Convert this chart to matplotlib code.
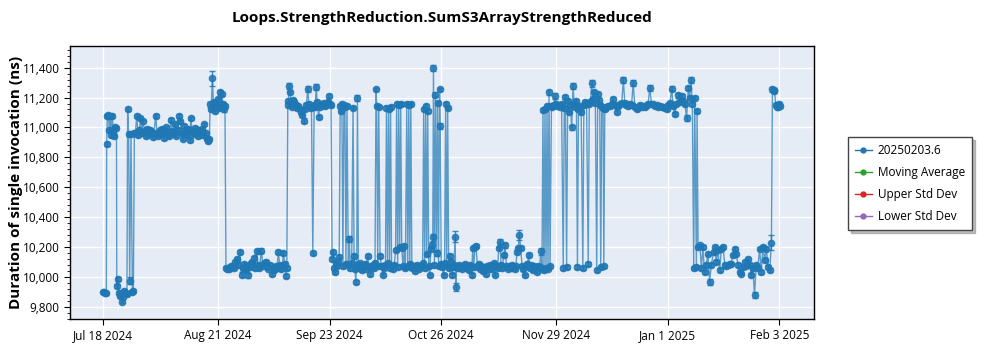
import matplotlib
matplotlib.use("Agg")
import matplotlib.pyplot as plt
from matplotlib.lines import Line2D
from matplotlib.ticker import MultipleLocator, AutoMinorLocator, StrMethodFormatter
import pandas as pd

# --- data (days since 2024-07-18, ns) ---
days = [
    0.0, 0.3, 0.6, 0.9, 1.0, 1.2, 1.5, 1.8, 2.1, 2.4,
    2.7, 3.0, 3.3, 3.6, 3.9, 4.0, 4.3, 4.6, 5.0, 5.4,
    5.8, 6.2, 6.6, 7.0, 7.2, 7.5, 7.8, 8.2, 8.6, 8.9,
    9.2, 9.5, 9.9, 10.3, 10.7, 11.0, 11.4, 11.8, 12.2, 12.6,
    13.0, 13.4, 13.8, 14.2, 14.6, 15.0, 15.5, 15.9, 16.3, 16.7,
    17.1, 17.5, 17.9, 18.3, 18.7, 19.1, 19.5, 20.0, 20.4, 20.8,
    21.2, 21.6, 22.0, 22.4, 22.8, 23.2, 23.6, 24.0, 24.4, 24.8,
    25.2, 25.6, 25.9, 26.3, 26.7, 27.1, 27.5, 27.9, 28.3, 28.7,
    29.1, 29.5, 29.9, 30.3, 30.7, 31.1, 31.4, 31.6, 31.9, 32.3,
    32.6, 32.9, 33.2, 33.5, 33.8, 34.1, 34.5, 34.8, 35.1, 35.4,
    35.7, 36.0, 36.3, 36.7, 37.1, 37.5, 37.9, 38.3, 38.7, 39.1,
    39.5, 39.9, 40.4, 40.9, 41.3, 41.7, 42.1, 42.5, 42.9, 43.3,
    43.7, 44.1, 44.5, 44.9, 45.4, 45.8, 46.2, 46.8, 47.2, 47.6,
    48.0, 48.4, 48.8, 49.2, 49.8, 50.2, 50.6, 51.0, 51.4, 51.8,
    52.2, 52.6, 53.0, 53.3, 53.7, 54.0, 54.3, 54.6, 54.8, 55.0,
    55.3, 55.6, 55.9, 56.2, 56.5, 56.9, 57.3, 57.7, 58.1, 58.5,
    58.9, 59.3, 59.7, 60.1, 60.5, 60.8, 61.2, 61.6, 62.0, 62.4,
    62.7, 63.0, 63.3, 63.7, 64.0, 64.4, 64.8, 65.2, 65.6, 66.0,
    66.4, 66.8, 67.1, 67.4, 67.7, 68.0, 68.3, 68.6, 68.9, 69.2,
    69.5, 69.8, 70.1, 70.3, 70.6, 70.9, 71.2, 71.5, 71.8, 72.1,
    72.5, 72.8, 73.1, 73.5, 73.9, 74.2, 74.5, 74.7, 75.0, 75.2,
    75.5, 75.8, 76.1, 76.5, 76.9, 77.3, 77.7, 78.2, 78.5, 78.9,
    79.3, 79.7, 80.1, 80.4, 80.7, 80.9, 81.2, 81.5, 81.9, 82.3,
    82.7, 83.1, 83.5, 83.8, 84.1, 84.4, 84.7, 85.0, 85.3, 85.7,
    86.1, 86.5, 86.8, 87.1, 87.4, 87.7, 88.0, 88.3, 88.7, 89.1,
    89.4, 89.8, 90.1, 90.4, 90.7, 91.0, 91.3, 91.7, 92.1, 92.5,
    92.9, 93.3, 93.7, 94.1, 94.5, 94.8, 95.1, 95.4, 95.7, 96.0,
    96.3, 96.6, 96.9, 97.2, 97.5, 97.7, 98.0, 98.3, 98.6, 98.9,
    99.2, 99.5, 99.7, 100.0, 100.3, 100.7, 101.0, 101.3, 101.6, 101.9,
    102.2, 102.6, 102.9, 103.2, 103.5, 103.8, 104.1, 104.3, 104.6, 105.0,
    105.4, 105.8, 106.2, 106.6, 107.0, 107.4, 107.8, 108.2, 108.6, 109.0,
    109.3, 109.6, 110.0, 110.3, 110.7, 111.1, 111.5, 111.9, 112.3, 112.7,
    113.1, 113.5, 113.9, 114.3, 114.7, 115.1, 115.5, 115.9, 116.3, 116.7,
    117.0, 117.4, 117.7, 118.1, 118.5, 118.9, 119.3, 119.7, 120.1, 120.5,
    120.9, 121.3, 121.7, 122.1, 122.4, 122.8, 123.1, 123.5, 123.9, 124.3,
    124.7, 125.1, 125.5, 125.9, 126.3, 126.7, 127.1, 127.5, 127.9, 128.3,
    128.7, 129.1, 129.5, 129.8, 130.1, 130.4, 130.7, 131.0, 131.3, 131.6,
    131.9, 132.2, 132.6, 132.9, 133.3, 133.6, 134.0, 134.4, 134.8, 135.2,
    135.6, 136.1, 136.4, 136.7, 137.1, 137.4, 137.8, 138.2, 138.6, 139.0,
    139.3, 139.7, 140.0, 140.3, 140.6, 141.0, 141.4, 141.9, 142.2, 142.6,
    143.0, 143.5, 143.8, 144.2, 144.5, 144.9, 145.3, 145.6, 146.0, 146.3,
    146.6, 146.9, 147.2, 147.5, 147.9, 148.1, 148.4, 148.8, 149.3, 149.9,
    150.4, 150.9, 151.4, 151.9, 152.4, 152.9, 153.4, 153.9, 154.3, 154.8,
    155.3, 155.8, 156.3, 156.8, 157.3, 157.8, 158.3, 158.8, 159.3, 159.8,
    160.3, 160.8, 161.2, 161.7, 162.2, 162.7, 163.2, 163.7, 164.2, 164.7,
    165.2, 165.7, 166.2, 166.7, 167.2, 167.7, 168.2, 168.6, 169.1, 169.6,
    170.1, 170.6, 171.1, 171.6, 172.1, 172.6, 173.1, 173.5, 173.9, 174.3,
    174.7, 175.0, 175.5, 175.7, 176.0, 176.5, 177.0, 177.4, 177.9, 178.4,
    178.9, 179.4, 179.9, 180.6, 180.9, 181.4, 181.9, 182.4, 182.9, 183.4,
    183.9, 184.3, 184.8, 185.3, 185.8, 186.3, 186.8, 187.3, 187.8, 188.3,
    188.8, 189.3, 189.8, 190.3, 190.8, 191.3, 191.7, 192.2, 192.7, 193.2,
    193.7, 194.2, 194.7, 195.2, 195.7, 196.2, 196.7, 197.2, 197.7, 198.0,
    198.4, 198.6, 199.0, 199.3, 199.6, 199.9, 200.3,
]

durations = [
    9900, 9898, 9893, 9890, 10890, 11075, 11080, 10980, 11078, 10950,
    11075, 10960, 10940, 11000, 10995, 9940, 9985, 9890, 9870, 9835,
    9865, 9905, 9895, 9885, 11125, 10955, 9975, 10955, 9900, 9905,
    10960, 10965, 11075, 10950, 10980, 11065, 10960, 11040, 10975, 10940,
    10990, 10955, 10985, 10970, 10935, 10960, 11078, 10965, 10945, 10980,
    10960, 10990, 10930, 10975, 11000, 10955, 10940, 11050, 10975, 10960,
    11020, 10945, 10985, 11078, 11040, 10960, 10925, 11010, 10970, 10950,
    10990, 10915, 11060, 10975, 10955, 10995, 10960, 10940, 10985, 10965,
    10990, 10950, 11020, 10960, 10925, 10910, 10920, 11155, 11120, 11330,
    11145, 11170, 11110, 11150, 11190, 11130, 11235, 11140, 11225, 11160,
    11120, 11145, 10060, 10055, 10050, 10065, 10070, 10075, 10060, 10100,
    10120, 10080, 10165, 10015, 10060, 10085, 10050, 10070, 10010, 10065,
    10090, 10100, 10125, 10060, 10170, 10080, 10060, 10175, 10075, 10090,
    10100, 10070, 10055, 10080, 10020, 10060, 10045, 10075, 10060, 10165,
    10080, 10050, 10070, 10160, 10085, 10005, 10060, 11150, 11180, 11275,
    11235, 11160, 11140, 11185, 11170, 11150, 11130, 11145, 11120, 11100,
    11085, 11045, 11120, 11150, 11260, 11160, 11140, 11130, 10160, 11150,
    11135, 11270, 11170, 11070, 11140, 11160, 11150, 11165, 11145, 11155,
    11170, 11210, 11160, 11150, 10120, 10165, 10060, 10030, 10090, 10075,
    10100, 10135, 11145, 11110, 11155, 10070, 11150, 11140, 10085, 11145,
    10080, 10255, 10060, 10095, 11133, 10140, 10050, 9967, 10080, 11195,
    10075, 10060, 10090, 10045, 10070, 10085, 10055, 10140, 10070, 10020,
    10065, 10080, 10060, 10095, 11255, 11145, 10075, 11140, 10140, 10070,
    10015, 10060, 10080, 11130, 10090, 11125, 10060, 11135, 10075, 10050,
    10080, 10180, 11155, 10065, 11150, 10200, 11155, 10195, 10070, 10205,
    10060, 11155, 10075, 11150, 10085, 11155, 10060, 10075, 10040, 10070,
    10080, 10055, 10065, 10075, 10090, 11120, 10060, 11145, 10150, 11110,
    10070, 10010, 10185, 10210, 10265, 11400, 10080, 11220, 10160, 11165,
    10070, 11255, 11010, 10085, 10065, 10010, 10090, 11155, 10070, 11133,
    10060, 10140, 10100, 10011, 10065, 10080, 10270, 9933, 10075, 10060,
    10080, 10065, 10055, 10075, 10085, 10060, 10070, 10045, 10080, 10011,
    10190, 10065, 10200, 10205, 10070, 10085, 10055, 10075, 10040, 10060,
    10020, 10075, 10065, 10080, 10050, 10070, 10090, 10015, 10075, 10060,
    10190, 10235, 10080, 10060, 10145, 10210, 10070, 10055, 10075, 10060,
    10080, 10065, 10050, 10070, 10165, 10190, 10280, 10195, 10075, 10050,
    10010, 10070, 10085, 10145, 10060, 10080, 10045, 10070, 10060, 10035,
    10075, 10065, 10170, 10050, 11115, 10045, 11120, 10060, 11145, 10055,
    11235, 10070, 11145, 11140, 11150, 11210, 11160, 11145, 11150, 11140,
    11155, 10060, 11130, 11205, 10065, 11175, 11100, 11150, 11000, 11280,
    11160, 11135, 11180, 10065, 11120, 11145, 11105, 10060, 11150, 11170,
    11155, 10085, 11160, 11175, 11295, 11190, 11240, 11165, 10045, 11225,
    11185, 11150, 10065, 11140, 11130, 10070, 11125, 11135, 11145, 11145,
    11160, 11190, 11150, 11105, 11145, 11155, 11165, 11315, 11165, 11150,
    11145, 11160, 11150, 11295, 11135, 11120, 11140, 11150, 11135, 11145,
    11135, 11150, 11155, 11265, 11160, 11155, 11145, 11150, 11140, 11145,
    11140, 11135, 11130, 11120, 11150, 11165, 11260, 11145, 11090, 11155,
    11215, 11170, 11210, 11180, 11155, 11060, 11265, 11200, 11315, 11155,
    10056, 11200, 10067, 11111, 10200, 10211, 10056, 10200, 10033, 10080,
    10156, 9967, 10078, 10167, 10200, 10100, 10178, 10044, 10189, 10200,
    10078, 10070, 10078, 10085, 10089, 10144, 10189, 10156, 10078, 10033,
    10022, 10067, 10100, 10075, 10122, 10078, 10011, 10060, 9878, 10078,
    10060, 10189, 10033, 10200, 10111, 10189, 10067, 10044, 10227, 11255,
    11250, 11245, 11150, 11140, 11135, 11155, 11145,
]

errors = [
    8, 8, 8, 10, 15, 15, 12, 12, 12, 12,
    12, 12, 12, 12, 12, 12, 15, 12, 12, 12,
    12, 12, 12, 12, 15, 12, 25, 12, 12, 12,
    12, 12, 12, 12, 12, 12, 12, 12, 12, 12,
    12, 12, 12, 12, 12, 12, 12, 12, 12, 12,
    12, 12, 12, 12, 12, 12, 12, 12, 12, 12,
    12, 12, 12, 12, 12, 12, 12, 12, 12, 12,
    12, 12, 12, 12, 12, 12, 12, 12, 12, 12,
    12, 12, 12, 12, 12, 12, 12, 15, 12, 50,
    12, 12, 15, 12, 12, 12, 15, 12, 15, 12,
    15, 12, 12, 12, 12, 12, 12, 12, 12, 12,
    12, 12, 15, 15, 12, 12, 12, 12, 15, 12,
    12, 12, 12, 12, 15, 12, 12, 15, 12, 12,
    12, 12, 12, 12, 12, 12, 12, 12, 12, 15,
    12, 12, 12, 12, 12, 15, 12, 12, 12, 20,
    12, 12, 12, 12, 12, 12, 12, 12, 12, 12,
    15, 15, 12, 12, 20, 12, 12, 12, 12, 12,
    12, 20, 12, 15, 12, 12, 12, 12, 12, 12,
    12, 15, 12, 12, 12, 12, 12, 12, 12, 12,
    12, 12, 12, 12, 12, 12, 12, 12, 12, 12,
    12, 20, 12, 12, 12, 12, 12, 15, 12, 20,
    12, 12, 12, 12, 12, 12, 12, 15, 12, 12,
    12, 12, 12, 12, 12, 12, 12, 12, 12, 12,
    12, 12, 12, 12, 12, 12, 12, 12, 12, 12,
    12, 12, 12, 12, 12, 12, 12, 12, 12, 12,
    12, 12, 12, 12, 12, 12, 12, 12, 12, 12,
    12, 12, 12, 12, 12, 12, 12, 12, 12, 12,
    12, 12, 15, 20, 25, 20, 12, 15, 20, 12,
    12, 12, 20, 12, 12, 12, 12, 12, 12, 12,
    12, 12, 12, 12, 12, 12, 40, 25, 12, 12,
    12, 12, 12, 12, 12, 12, 12, 12, 12, 12,
    12, 12, 12, 12, 12, 12, 12, 12, 12, 12,
    12, 12, 12, 12, 12, 12, 12, 12, 12, 12,
    12, 20, 12, 12, 12, 15, 12, 12, 12, 12,
    12, 12, 12, 12, 12, 12, 35, 12, 12, 12,
    12, 12, 12, 12, 12, 12, 12, 12, 12, 12,
    12, 12, 25, 12, 12, 12, 12, 12, 12, 12,
    15, 12, 12, 12, 12, 20, 12, 12, 12, 12,
    12, 12, 12, 15, 12, 12, 12, 12, 15, 20,
    12, 12, 12, 12, 12, 12, 12, 12, 12, 12,
    12, 12, 12, 12, 25, 12, 12, 12, 12, 12,
    12, 12, 12, 12, 12, 12, 12, 12, 12, 12,
    12, 12, 12, 15, 12, 12, 12, 20, 12, 12,
    12, 12, 12, 20, 12, 12, 12, 12, 12, 12,
    12, 12, 12, 20, 12, 12, 12, 12, 12, 12,
    12, 12, 12, 12, 12, 12, 15, 12, 15, 12,
    15, 12, 15, 12, 12, 20, 15, 12, 20, 12,
    12, 12, 12, 12, 12, 12, 12, 12, 12, 12,
    12, 20, 12, 12, 12, 12, 12, 12, 12, 12,
    12, 12, 12, 12, 12, 12, 12, 12, 12, 12,
    12, 12, 12, 12, 12, 12, 12, 12, 20, 12,
    12, 12, 12, 12, 12, 12, 12, 12, 50, 15,
    15, 12, 12, 12, 12, 12, 15,
]

start_date = "2024-07-18"
tick_dates = ["2024-07-18", "2024-08-21", "2024-09-23", "2024-10-26",
              "2024-11-29", "2025-01-01", "2025-02-03"]
tick_labels = ["Jul 18 2024", "Aug 21 2024", "Sep 23 2024", "Oct 26 2024",
               "Nov 29 2024", "Jan 1 2025", "Feb 3 2025"]

legend_labels = ["20250203.6", "Moving Average", "Upper Std Dev", "Lower Std Dev"]
legend_colors = ["#1f77b4", "#2ca02c", "#d62728", "#9467bd"]

title = "Loops.StrengthReduction.SumS3ArrayStrengthReduced"
ylabel = "Duration of single invocation (ns)"

# --- plot ---
plt.rcParams["font.family"] = ["Open Sans", "DejaVu Sans"]

start = pd.Timestamp(start_date)
dates = start + pd.to_timedelta(days, unit="D")

fig = plt.figure(figsize=(10, 3.5), dpi=100)
ax = fig.add_axes([0.070, 0.0886, 0.744, 0.78])
ax.set_facecolor("#E5ECF6")
ax.grid(True, color="white", lw=1)
ax.set_axisbelow(True)

blue = legend_colors[0]
ax.plot(dates, durations, "-", color=blue, lw=1, alpha=0.7, zorder=2)
ax.errorbar(dates, durations, yerr=errors, fmt="o", ms=4.5, color=blue,
            ecolor=blue, elinewidth=1, capsize=2.5, alpha=0.85, zorder=3)

ax.set_ylim(9718, 11545)
ax.set_xlim(start + pd.Timedelta(days=-9.85), start + pd.Timedelta(days=210.3))
ax.yaxis.set_major_locator(MultipleLocator(200))
ax.yaxis.set_major_formatter(StrMethodFormatter("{x:,.0f}"))
ax.yaxis.set_minor_locator(AutoMinorLocator(5))
ax.set_xticks(pd.to_datetime(tick_dates))
ax.set_xticklabels(tick_labels)
ax.tick_params(axis="both", which="major", length=4, labelsize=8.5, color="black")
ax.tick_params(axis="y", which="minor", length=2, color="black")
for s in ax.spines.values():
    s.set_color("black")
    s.set_linewidth(1)

ax.set_ylabel(ylabel, fontsize=11, fontweight="bold")
ax.yaxis.set_label_coords(-0.063, 0.5)
fig.text(0.442, 0.948, title, ha="center", va="center", fontsize=11, fontweight="bold")

handles = [Line2D([], [], color=c, marker="o", ms=3.5, lw=1) for c in legend_colors]
leg = fig.legend(handles, legend_labels, loc="upper left", bbox_to_anchor=(0.848, 0.608),
                 borderaxespad=0, fancybox=False, shadow={"color": "gray", "alpha": 0.5},
                 edgecolor="#444444", framealpha=1, fontsize=8.5,
                 handlelength=1.4, handletextpad=0.5, labelspacing=0.75, borderpad=0.6)
leg.get_frame().set_linewidth(1)

fig.savefig("out.png", dpi=100)
